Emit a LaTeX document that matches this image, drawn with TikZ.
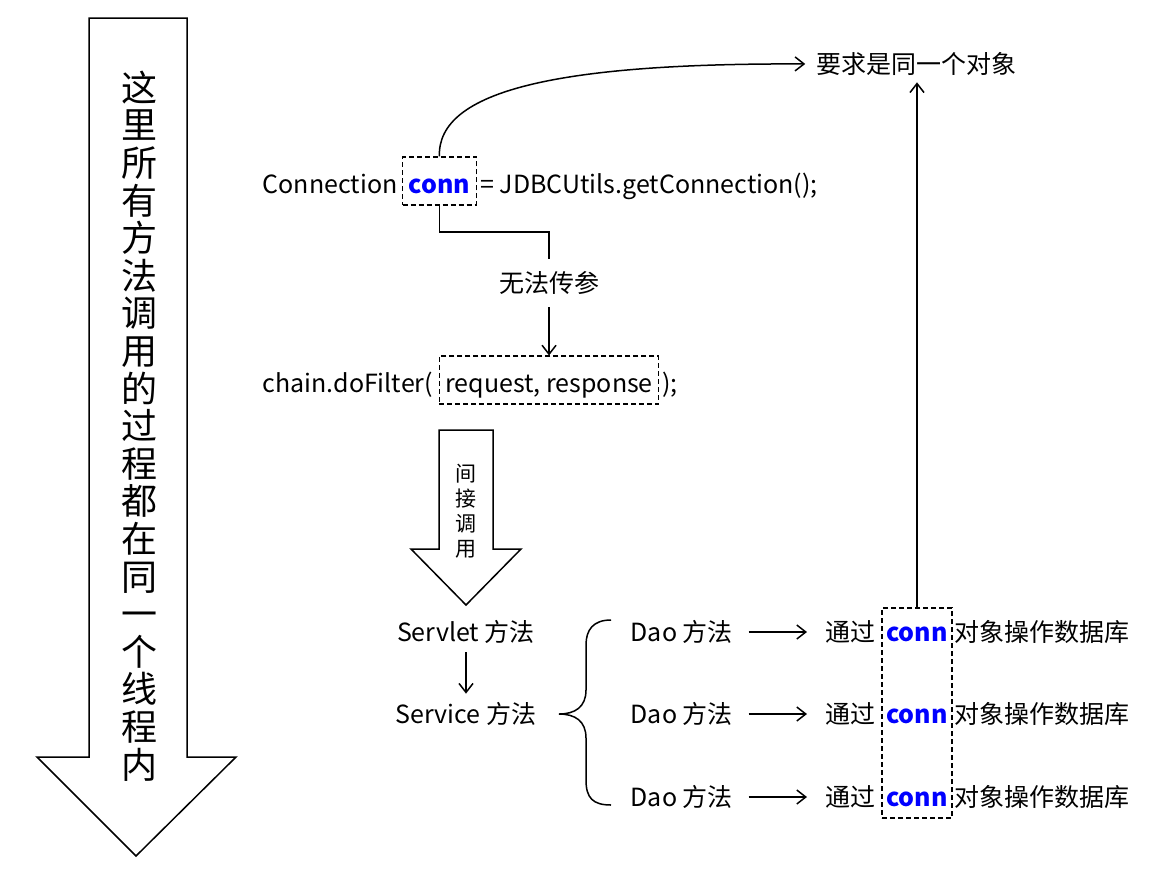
\documentclass[tikz,border=0pt]{standalone}
\usepackage{fontspec}
\setmainfont{Noto Sans CJK SC}
\usetikzlibrary{arrows.meta}
\definecolor{connblue}{RGB}{0,0,255}
\tikzset{
  txt/.style={font=\fontsize{25}{30}\selectfont, inner sep=0pt},
  connword/.style={txt, font=\fontsize{25}{30}\selectfont\bfseries, text=connblue},
  dashbox/.style={draw, line width=1.1pt, dash pattern=on 5pt off 3pt},
  boxed/.style={dashbox, inner xsep=6pt, text height=24pt, text depth=0pt, minimum height=48pt},
  bigarrow/.style={draw, line width=1.5pt, line join=miter},
}
\begin{document}
\begin{tikzpicture}[x=1pt, y=1pt, line width=1.5pt, >={Straight Barb[length=9pt,width=14pt]}]
\useasboundingbox (0,0) rectangle (1158,-870);

% les deux grosses fleches
\draw[bigarrow] (89,-18) -- (187,-18) -- (187,-757) -- (236,-757) -- (136,-856) -- (37,-757) -- (89,-757) -- cycle;
\node[font=\fontsize{36}{37.6}\selectfont, align=center] (thread) at (139,-426) {这\\里\\所\\有\\方\\法\\调\\用\\的\\过\\程\\都\\在\\同\\一\\个\\线\\程\\内};
\draw[bigarrow] (439,-430) -- (493,-430) -- (493,-549) -- (521,-549) -- (466,-605) -- (411,-549) -- (439,-549) -- cycle;
\node[font=\fontsize{21}{25}\selectfont, align=center] (indirect) at (466,-511) {间\\接\\调\\用};

% code
\node[txt, anchor=base west] (conntype) at (262,-193) {Connection};
\node[connword, boxed, anchor=base west, xshift=4pt] (connbox) at (conntype.base east) {conn};
\node[txt, anchor=base west, xshift=3pt] (getconn) at (connbox.base east) {= JDBCUtils.getConnection();};
\node[txt, anchor=base west] (dofilter) at (262,-392) {chain.doFilter(};
\node[txt, boxed, anchor=base west, xshift=5pt] (reqbox) at (dofilter.base east) {request, response};
\node[txt, anchor=base west, xshift=2pt] (close) at (reqbox.base east) {);};
\node[txt] (goal) at (916,-64) {要求是同一个对象};
\node[txt, inner ysep=12pt] (nofa) at (reqbox.north |- 0,-283) {无法传参};
\coordinate (bend) at (reqbox.north |- 0,-232);

% appels
\node[txt] (servlet) at (466,-632) {Servlet 方法};
\node[txt] (service) at (466,-714) {Service 方法};
\foreach \y/\n in {632/1,714/2,797/3}{
  \node[txt, anchor=west] (dao\n) at (630,-\y) {Dao 方法};
  \node[txt, anchor=west] (via\n) at (825,-\y) {通过};
  \node[connword, anchor=base west, xshift=9pt] (cw\n) at (via\n.base east) {conn};
  \node[txt, anchor=base west, xshift=5pt] (db\n) at (cw\n.base east) {对象操作数据库};
  \draw[->, shorten <=15pt, shorten >=18pt] (dao\n) -- (via\n);
}
\node[dashbox, minimum width=70pt, minimum height=210pt] (connbar) at (917,-713) {};

\draw (connbox.south) |- (bend) -- (nofa);
\draw[->] (nofa) -- (reqbox.north);
\draw[->, shorten >=10pt] (connbox.north) .. controls (437,-90) and (560,-63) .. (goal.west);
\draw[->, shorten >=6pt] (connbar.north) -- (connbar.north |- goal.south);
\draw[->, shorten <=8pt, shorten >=8pt] (servlet) -- (service);
\draw (611,-620) .. controls (593,-620) and (586,-630) .. (586,-645) -- (586,-690) .. controls (586,-707) and (575,-714) .. (559,-714)
      .. controls (575,-714) and (586,-721) .. (586,-738) -- (586,-780) .. controls (586,-798) and (593,-805) .. (611,-805);
\end{tikzpicture}
\end{document}
